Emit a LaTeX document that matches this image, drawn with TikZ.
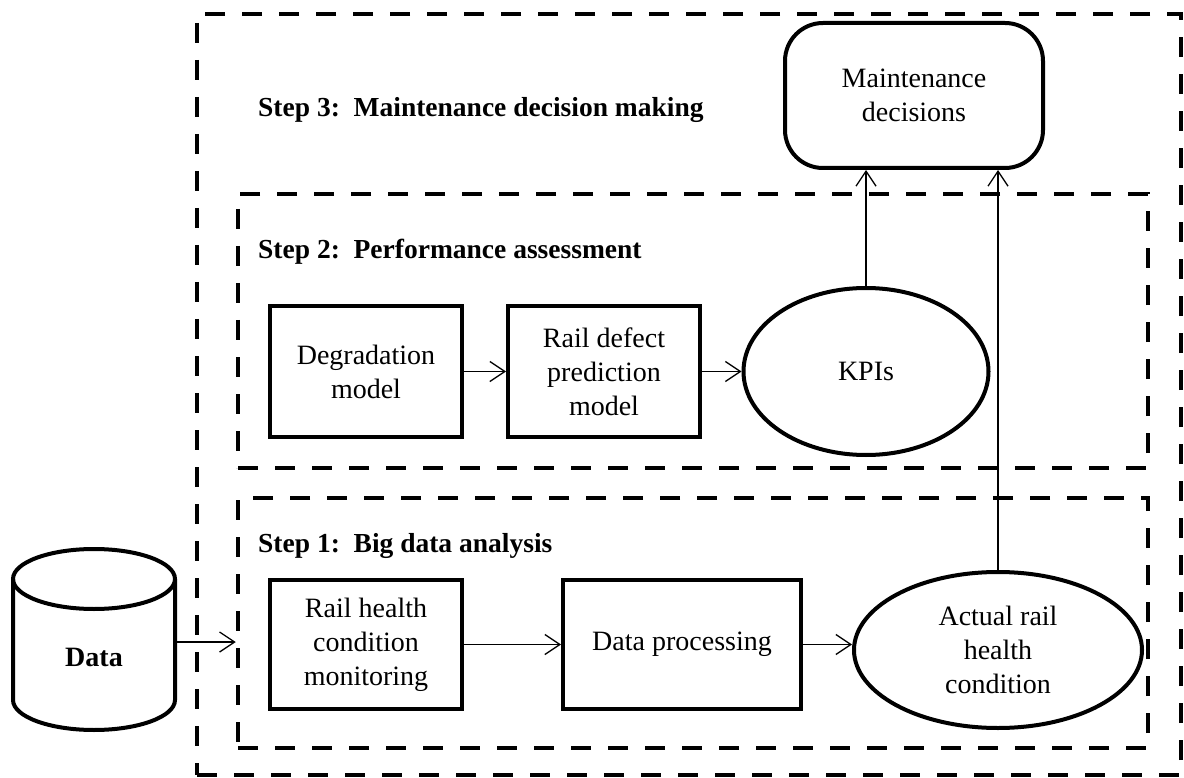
\documentclass[tikz,border=0pt]{standalone}
\usepackage{fontspec}
\setmainfont{Liberation Serif}
\usetikzlibrary{arrows.meta,calc,positioning,shapes.geometric}

\begin{document}
\begin{tikzpicture}[x=1pt,y=-1pt,
    font=\fontsize{28}{34}\selectfont,
    stepframe/.style={draw,line width=4.5pt,dash pattern=on 20pt off 17pt,inner sep=0pt},
    steplabel/.style={anchor=west,font=\fontsize{27.5}{34}\selectfont\bfseries,inner sep=0pt},
    procbox/.style={draw,line width=4pt,align=center,inner sep=2pt},
    result/.style={draw,ellipse,line width=4pt,align=center,inner sep=0pt},
    arr/.style={-{Straight Barb[length=15pt,width=20pt]},line width=1.3pt}]
  \useasboundingbox (0,0) rectangle (1184,778);

  % step frames
  \node[stepframe,minimum width=984,minimum height=761] (step3) at (689,394.5) {};
  \node[stepframe,minimum width=910,minimum height=274] (step2) at (693,331) {};
  \node[stepframe,minimum width=910,minimum height=250] (step1) at (693,623) {};
  \node[steplabel] (lab3) at (258,110) {Step 3:\ \ Maintenance decision making};
  \node[steplabel] (lab2) at (258,252) {Step 2:\ \ Performance assessment};
  \node[steplabel] (lab1) at (258,546) {Step 1:\ \ Big data analysis};

  % data store
  \node[minimum width=162,minimum height=181,inner sep=0pt] (data) at (94,642) {};
  \draw[line width=4pt] (94,579) ellipse [x radius=81,y radius=30];
  \draw[line width=4pt] (13,579) -- (13,700) arc[start angle=180,end angle=0,x radius=81,y radius=30] -- (175,579);
  \node[font=\fontsize{28}{34}\selectfont\bfseries] (datatext) at (94,657) {Data};

  % step 3
  \node[procbox,rounded corners=38pt,minimum width=258,minimum height=145] (maint) at (914,95.5) {Maintenance\\decisions};

  % step 2
  \node[procbox,minimum width=192,minimum height=131] (degr) at (366,371.5) {Degradation\\model};
  \node[procbox,minimum width=192,minimum height=131] (defect) at (604,371.5) {Rail defect\\prediction\\model};
  \node[result,minimum width=245,minimum height=167] (kpi) at (866,371.5) {KPIs};

  % step 1
  \node[procbox,minimum width=192,minimum height=129] (monit) at (366,644.5) {Rail health\\condition\\monitoring};
  \node[procbox,minimum width=238,minimum height=129] (proc) at (682,644.5) {Data processing};
  \node[result,minimum width=288,minimum height=156] (actual) at (998,650) {Actual rail\\health\\condition};

  \draw[arr] (data.east) -- (data.east -| step1.west);
  \draw[arr] (monit) -- (proc);
  \draw[arr] (proc.east) -- (proc.east -| actual.west);
  \draw[arr] (degr) -- (defect);
  \draw[arr] (defect) -- (kpi);
  \draw[arr] (kpi.north) -- (kpi.north |- maint.south);
  \draw[arr] (actual.north) -- (actual.north |- maint.south);
\end{tikzpicture}
\end{document}
